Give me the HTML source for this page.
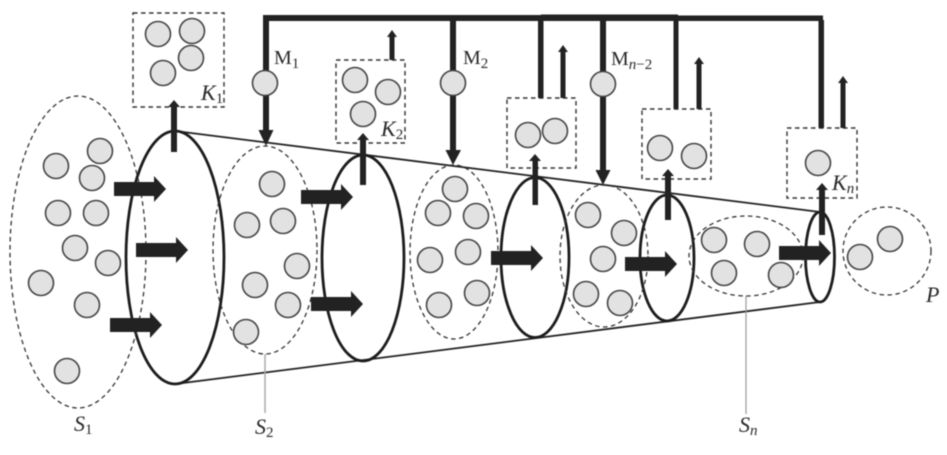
<!DOCTYPE html>
<html><head><meta charset="utf-8"><style>
html,body{margin:0;padding:0;background:#fff;width:947px;height:455px;overflow:hidden}
svg{display:block;filter:blur(0.4px)}
.c{fill:#e2e2e2;stroke:#444;stroke-width:1.6}
.d{fill:none;stroke:#333;stroke-width:1.3;stroke-dasharray:4.5 3.5}
.b{fill:none;stroke:#333;stroke-width:1.4;stroke-dasharray:4.5 3.5}
.e{fill:none;stroke:#1c1c1c;stroke-width:2.8}
.k{fill:#222;stroke:none}
.t{font-family:"Liberation Serif",serif;font-size:22px;fill:#2a2a2a}
.i{font-style:italic}
.s{font-size:15px}
</style></head><body>
<svg width="947" height="455" viewBox="0 0 947 455" xmlns="http://www.w3.org/2000/svg">
<defs>
<g id="ba"><path class="k" d="M0-7H40V-13L52 0 40 13V7H0Z"/></g>
</defs>
<rect width="947" height="455" fill="#fff"/>

<!-- cone -->
<path d="M175 131L820 212M175 384L820 302" fill="none" stroke="#222" stroke-width="1.8"/>
<ellipse class="e" cx="175" cy="257.5" rx="49" ry="126.5"/>
<ellipse class="e" cx="363" cy="258" rx="41" ry="103"/>
<ellipse class="e" cx="535" cy="257.5" rx="34" ry="80"/>
<ellipse class="e" cx="667" cy="258" rx="27" ry="63"/>
<ellipse class="e" cx="820" cy="257" rx="14.5" ry="45"/>

<!-- sets -->
<ellipse class="d" cx="78" cy="252" rx="68" ry="156"/>
<ellipse class="d" cx="265" cy="250" rx="52" ry="104"/>
<ellipse class="d" cx="454" cy="252" rx="44" ry="87"/>
<ellipse class="d" cx="604" cy="256" rx="44" ry="71"/>
<ellipse class="d" cx="746" cy="256" rx="57" ry="40"/>
<ellipse class="d" cx="887" cy="251" rx="44" ry="44"/>

<!-- leader lines -->
<path d="M265 354V413" stroke="#aaa" stroke-width="1.5" fill="none"/>
<path d="M746 296V414" stroke="#999" stroke-width="1.2" fill="none"/>

<!-- boxes -->
<rect class="b" x="133" y="13" width="91" height="94"/>
<rect class="b" x="336" y="60" width="69" height="83"/>
<rect class="b" x="507" y="98" width="69" height="70"/>
<rect class="b" x="642" y="109" width="69" height="70"/>
<rect class="b" x="787" y="128" width="70" height="70"/>

<!-- particles -->
<g class="c">
<circle cx="100" cy="151" r="12.5"/><circle cx="56" cy="166" r="12.5"/><circle cx="92" cy="178" r="12.5"/><circle cx="58" cy="213" r="12.5"/><circle cx="96" cy="213" r="12.5"/><circle cx="75" cy="248" r="12.5"/><circle cx="108" cy="263" r="12.5"/><circle cx="41" cy="283" r="12.5"/><circle cx="87" cy="305" r="12.5"/><circle cx="67" cy="371" r="12.5"/>
<circle cx="272" cy="184" r="12.5"/><circle cx="247" cy="225" r="12.5"/><circle cx="283" cy="221" r="12.5"/><circle cx="297" cy="266" r="12.5"/><circle cx="255" cy="285" r="12.5"/><circle cx="288" cy="305" r="12.5"/><circle cx="246" cy="332" r="12.5"/>
<circle cx="455" cy="189" r="12.5"/><circle cx="438" cy="213" r="12.5"/><circle cx="476" cy="216" r="12.5"/><circle cx="430" cy="260" r="12.5"/><circle cx="468" cy="252" r="12.5"/><circle cx="439" cy="305" r="12.5"/><circle cx="477" cy="293" r="12.5"/>
<circle cx="588" cy="215" r="12.5"/><circle cx="624" cy="233" r="12.5"/><circle cx="603" cy="259" r="12.5"/><circle cx="586" cy="294" r="12.5"/><circle cx="620" cy="303" r="12.5"/>
<circle cx="714" cy="240" r="12.5"/><circle cx="757" cy="244" r="12.5"/><circle cx="724" cy="273" r="12.5"/><circle cx="781" cy="275" r="12.5"/>
<circle cx="860" cy="257" r="12.5"/><circle cx="890" cy="239" r="12.5"/>
<circle cx="158" cy="34" r="12.5"/><circle cx="192" cy="31" r="12.5"/><circle cx="191" cy="58" r="12.5"/><circle cx="163" cy="73" r="12.5"/>
<circle cx="355" cy="80" r="12.5"/><circle cx="388" cy="92" r="12.5"/><circle cx="363" cy="114" r="12.5"/>
<circle cx="528" cy="135" r="12.5"/><circle cx="555" cy="131" r="12.5"/>
<circle cx="660" cy="148" r="12.5"/><circle cx="694" cy="156" r="12.5"/>
<circle cx="818" cy="163" r="12.5"/>
</g>

<!-- feedback network -->
<path class="k" d="M263 15H541V14.500H678V15.500H823V21H263Z"/>
<path class="k" d="M263 15H269V130H273.500L266 146 258.500 130H263Z"/>
<path class="k" d="M450 20H456V150H461L453 165 445.500 150H450Z"/>
<path class="k" d="M600 20H606V170H610.500L603 185 595.500 170H600Z"/>
<rect class="k" x="538" y="20" width="5.500" height="78"/>
<rect class="k" x="673.500" y="20" width="5" height="89"/>
<rect class="k" x="818.500" y="20" width="5.500" height="108"/>
<circle class="c" cx="265" cy="83" r="12.500"/>
<circle class="c" cx="453" cy="83" r="12.500"/>
<circle class="c" cx="603" cy="84" r="12.500"/>

<!-- thin up arrows -->
<g class="k">
<path d="M171 152V107H168L174 100 180 107H177V152Z"/>
<path d="M360 185V140H357L363 133 369 140H366V185Z"/>
<path d="M532.500 205V161H529L535 154 541 161H538V205Z"/>
<path d="M665 220V176H662L668 169 674 176H671V220Z"/>
<path d="M819 235V190H816L822 183 828 190H825V235Z"/>
<path d="M389.500 60V37H387L392 30 397 37H394.500V60Z"/>
<path d="M560.500 98V52H558L563 45 568 52H565.500V98Z"/>
<path d="M696.500 109V64H694L699 57 704 64H701.500V109Z"/>
<path d="M840.500 128V83H838L843 76 848 83H845.500V128Z"/>
</g>

<!-- block arrows -->
<use href="#ba" transform="translate(114 189)"/>
<use href="#ba" transform="translate(136 250)"/>
<use href="#ba" transform="translate(110 325)"/>
<use href="#ba" transform="translate(301 197)"/>
<use href="#ba" transform="translate(311 304)"/>
<use href="#ba" transform="translate(491 258)"/>
<use href="#ba" transform="translate(625 264)"/>
<use href="#ba" transform="translate(779 253)"/>

<!-- labels -->
<text class="t" x="274" y="64" font-size="20" style="font-size:20px">M<tspan class="s" dy="4">1</tspan></text>
<text class="t" x="463" y="64" style="font-size:20px">M<tspan class="s" dy="4">2</tspan></text>
<text class="t" x="611" y="65" style="font-size:20px">M<tspan class="s i" dy="4">n</tspan><tspan class="s">−2</tspan></text>
<text class="t i" x="201" y="100">K<tspan class="s" dy="3" font-style="normal">1</tspan></text>
<text class="t i" x="381" y="136">K<tspan class="s" dy="3" font-style="normal">2</tspan></text>
<text class="t i" x="832" y="190">K<tspan class="s i" dy="3">n</tspan></text>
<text class="t i" x="74" y="431">S<tspan class="s" dy="3" font-style="normal">1</tspan></text>
<text class="t i" x="255" y="434">S<tspan class="s" dy="3" font-style="normal">2</tspan></text>
<text class="t i" x="739" y="432">S<tspan class="s i" dy="3">n</tspan></text>
<text class="t i" x="926" y="302">P</text>
</svg>
</body></html>
